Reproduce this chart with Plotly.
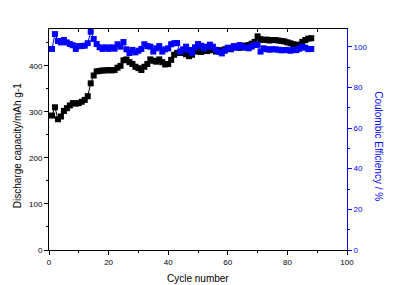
import plotly.graph_objects as go

cycles = list(range(1, 89))
discharge = [292, 310, 284, 290, 302, 308, 314, 319, 318, 319,
             322, 326, 334, 362, 379, 388, 389, 390, 390, 391,
             390, 391, 396, 400, 412, 414, 408, 404, 398, 395,
             391, 398, 404, 414, 411, 409, 414, 408, 403, 404,
             413, 424, 428, 429, 428, 425, 421, 424, 431, 433,
             430, 434, 432, 436, 434, 431, 434, 433, 436, 438,
             436, 440, 441, 439, 442, 444, 445, 448, 452, 464,
             458, 456, 457, 455, 456, 456, 455, 454, 453, 451,
             449, 447, 445, 446, 452, 456, 459, 460]
efficiency = [98.9, 106.2, 102.8, 102.1, 103.3, 102.1, 101.3, 100.7, 98.9, 100.3,
              100.3, 100.5, 101.7, 107.4, 103.8, 101.3, 99.7, 98.9, 99.7, 98.9,
              99.7, 99.0, 101.2, 100.0, 102.3, 98.7, 96.9, 98.4, 97.2, 98.0,
              98.9, 101.2, 100.3, 100.0, 97.6, 99.2, 100.3, 97.6, 98.7, 99.2,
              101.2, 101.7, 101.8, 97.6, 98.7, 100.0, 98.4, 97.0, 99.7, 101.3,
              100.5, 99.2, 100.0, 101.0, 100.0, 98.5, 97.5, 96.7, 98.0, 99.5,
              99.0, 100.3, 99.5, 100.8, 100.0, 99.5, 99.2, 100.0, 100.8, 101.0,
              97.6, 99.2, 98.8, 98.5, 98.8, 98.7, 98.5, 98.2, 98.4, 98.3,
              98.0, 98.5, 98.3, 99.0, 100.0, 99.5, 98.8, 98.9]

BLUE = "#0000ff"
tickfont = dict(family="Arial", size=8)

fig = go.Figure()
fig.add_trace(go.Scatter(x=cycles, y=discharge, mode="lines+markers",
                         line=dict(color="black", width=1),
                         marker=dict(symbol="square", size=6, color="black"),
                         showlegend=False))
fig.add_trace(go.Scatter(x=cycles, y=efficiency, mode="lines+markers", yaxis="y2",
                         line=dict(color=BLUE, width=1),
                         marker=dict(symbol="square", size=6, color=BLUE),
                         showlegend=False))
fig.add_trace(go.Scatter(x=[], y=[], xaxis="x2", showlegend=False))

fig.update_layout(
    width=405, height=285,
    margin=dict(l=49, r=58, t=29, b=35),
    plot_bgcolor="white", paper_bgcolor="white",
    font=dict(family="Arial", color="black"),
    xaxis=dict(range=[0, 100], dtick=20, tick0=0, ticks="outside", ticklen=4,
               tickcolor="black", showline=True, linecolor="black", linewidth=1,
               showgrid=False, zeroline=False, tickfont=tickfont,
               minor=dict(dtick=10, ticks="outside", ticklen=2, tickcolor="black"),
               anchor="y"),
    xaxis2=dict(range=[0, 100], overlaying="x", side="top", dtick=10, ticks="inside",
                ticklen=3, tickcolor="black", showline=True, linecolor="black",
                linewidth=1, showticklabels=False, showgrid=False, zeroline=False,
                anchor="y"),
    yaxis=dict(range=[0, 480], dtick=100, ticks="outside", ticklen=4, tickcolor="black",
               showline=True, linecolor="black", linewidth=1, showgrid=False,
               zeroline=False, tickfont=tickfont,
               minor=dict(dtick=50, ticks="outside", ticklen=2, tickcolor="black")),
    yaxis2=dict(range=[0, 108.7], dtick=20, overlaying="y", side="right",
                ticks="outside", ticklen=4, tickcolor=BLUE, showline=True,
                linecolor=BLUE, linewidth=1, showgrid=False, zeroline=False,
                tickfont=dict(family="Arial", size=8, color=BLUE),
                minor=dict(dtick=10, ticks="outside", ticklen=2, tickcolor=BLUE)),
    annotations=[
        dict(text="Cycle number", xref="paper", yref="paper", x=0.5, y=-0.127,
             showarrow=False, font=dict(family="Arial", size=10, color="black"),
             xanchor="center", yanchor="middle"),
        dict(text="Discharge capacity/mAh g-1", xref="paper", yref="paper",
             x=-0.107, y=0.47, textangle=-90, showarrow=False,
             font=dict(family="Arial", size=10, color="black"),
             xanchor="center", yanchor="middle"),
        dict(text="Coulombic Efficiency / %", xref="paper", yref="paper",
             x=1.107, y=0.47, textangle=90, showarrow=False,
             font=dict(family="Arial", size=10, color=BLUE),
             xanchor="center", yanchor="middle"),
    ],
)

fig.write_html("out.html")
